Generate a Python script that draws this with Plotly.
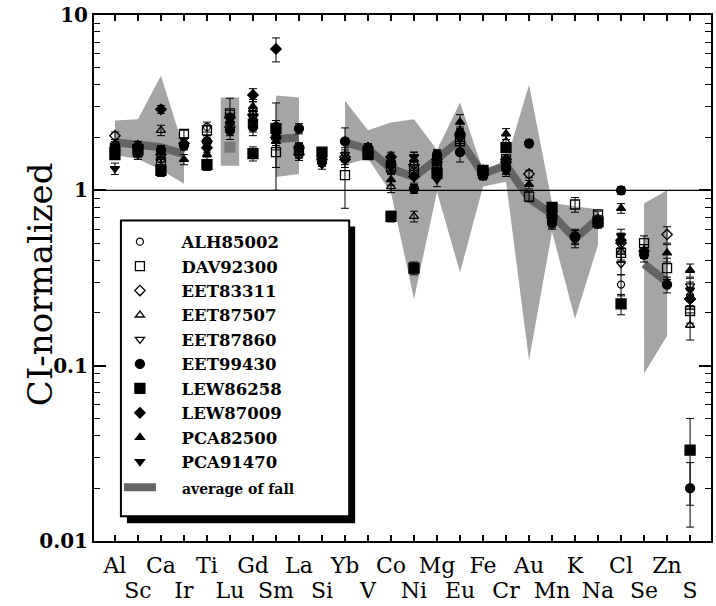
import plotly.graph_objects as go

elements = ["Al","Sc","Ca","Ir","Ti","Lu","Gd","Sm","La","Si","Yb","V","Co","Ni",
            "Mg","Eu","Fe","Cr","Au","Mn","K","Na","Cl","Se","Zn","S"]

# range of falls (gray band) and average of falls (dark line)
band_hi = [2.50,2.54,4.50,1.72,None,3.38,None,3.47,3.38,None,3.24,2.20,2.44,2.54,1.70,3.17,1.30,1.45,4.00,0.85,0.81,0.78,None,0.84,1.00,None]
band_lo = [1.59,1.51,1.31,1.09,None,1.38,None,1.19,1.24,None,1.40,1.52,0.97,0.24,0.98,0.34,1.05,1.12,0.107,0.58,0.185,0.49,None,0.09,0.148,None]
avg_fall = [1.88,1.84,1.76,1.61,None,1.76,None,1.96,2.00,None,1.88,1.72,1.33,1.19,1.51,1.93,1.24,1.39,0.90,0.73,0.53,0.69,None,0.38,0.30,None]

ALH85002 = [1.80,1.80,1.50,None,2.30,None,2.50,2.10,1.65,None,None,1.70,1.45,1.30,1.40,2.00,1.25,1.40,None,0.70,None,0.66,0.29,None,None,0.25]
DAV92300 = [1.75,1.70,1.45,2.10,2.20,2.75,2.40,1.65,1.70,None,1.22,1.65,1.35,1.30,1.35,1.90,1.25,1.50,0.92,0.72,0.83,0.73,0.44,0.50,0.36,0.205]
EET83311 = [2.05,1.75,1.60,None,1.90,2.30,2.70,2.00,1.60,None,1.55,1.75,1.40,1.40,1.50,2.05,1.30,1.45,1.24,0.70,None,0.68,0.50,None,0.56,0.24]
EET87507 = [1.85,1.65,2.20,None,1.80,2.50,2.90,2.00,1.65,None,None,1.70,1.05,0.71,1.55,2.20,1.20,1.90,None,0.68,None,None,0.45,None,None,0.17]
EET87860 = [1.70,1.60,1.55,None,1.70,2.40,2.60,2.10,1.70,None,1.60,1.65,1.50,1.55,1.50,None,1.25,1.35,None,0.70,None,None,0.38,None,None,0.285]
EET99430 = [1.65,1.75,1.70,1.80,1.90,2.20,2.30,2.30,2.25,1.45,1.90,1.75,1.45,1.02,1.60,1.65,1.22,1.33,1.85,0.65,0.54,0.66,1.00,0.43,0.29,0.020]
LEW86258 = [1.60,1.70,1.30,None,1.40,None,1.62,2.25,None,1.65,None,1.60,0.71,0.36,1.25,None,1.30,1.75,None,0.80,None,0.66,0.225,None,None,0.033]
LEW87009 = [1.75,1.80,2.90,1.85,1.75,2.60,3.50,6.40,1.75,1.50,1.50,1.65,1.55,1.20,1.45,2.10,1.25,1.50,None,0.72,0.55,0.65,0.52,0.45,None,0.24]
PCA82500 = [1.62,1.60,1.65,1.50,1.60,2.45,3.00,1.90,None,1.55,None,1.70,1.15,1.50,1.60,2.45,1.20,2.10,1.08,0.68,None,None,0.79,None,0.44,0.35]
PCA91470 = [1.33,1.65,None,None,None,None,2.45,2.00,None,1.40,None,1.60,1.35,1.55,1.15,None,1.20,1.30,None,0.66,0.52,0.65,0.55,0.45,None,0.27]

err_ALH85002 = [0.10,0.10,0.10,None,0.15,None,0.25,0.20,0.12,None,None,0.10,0.10,0.10,0.10,0.20,0.05,0.10,None,0.05,None,0.04,0.04,None,None,0.03]
err_DAV92300 = [0.10,0.10,0.10,0.10,0.15,0.60,0.25,0.65,0.15,None,0.43,0.10,0.10,0.10,0.10,0.20,0.05,0.10,0.06,0.05,0.08,0.03,0.05,0.05,0.05,0.03]
err_EET83311 = [0.10,0.10,0.10,None,0.15,0.25,0.25,0.20,0.12,None,0.15,0.10,0.10,0.10,0.10,0.20,0.05,0.10,0.06,0.05,None,0.04,0.05,None,0.06,0.03]
err_EET87507 = [0.10,0.10,0.15,None,0.15,0.25,0.30,0.20,0.12,None,None,0.10,0.08,0.05,0.10,0.20,0.05,0.15,None,0.05,None,None,0.05,None,None,0.03]
err_EET87860 = [0.10,0.10,0.10,None,0.15,0.25,0.25,0.20,0.12,None,0.15,0.10,0.10,0.10,0.10,None,0.05,0.10,None,0.05,None,None,0.05,None,None,0.03]
err_EET99430 = [0.10,0.10,0.10,0.10,0.15,0.25,0.25,0.20,0.15,0.08,0.37,0.10,0.10,0.06,0.10,0.20,0.05,0.10,0.08,0.05,0.05,0.04,0.05,0.04,0.03,0.008]
err_LEW86258 = [0.10,0.10,0.10,None,0.10,None,0.15,0.90,None,0.08,None,0.10,0.05,0.03,0.10,None,0.05,0.10,None,0.05,None,0.04,0.03,None,None,0.017]
err_LEW87009 = [0.10,0.10,0.15,0.10,0.15,0.25,0.30,1.00,0.12,0.08,0.15,0.10,0.10,0.10,0.10,0.20,0.05,0.10,None,0.05,0.05,0.04,0.05,0.04,None,0.03]
err_PCA82500 = [0.10,0.10,0.10,0.10,0.15,0.25,0.30,0.20,None,0.08,None,0.10,0.08,0.10,0.10,0.25,0.05,0.15,0.06,0.05,None,None,0.05,None,0.05,0.03]
err_PCA91470 = [0.10,0.10,None,None,None,None,0.25,0.20,None,0.08,None,0.10,0.10,0.10,0.10,None,0.05,0.10,None,0.05,0.05,0.04,0.05,0.04,None,0.03]

series = [
    ("ALH85002", ALH85002, err_ALH85002, "circle-open", 7),
    ("DAV92300", DAV92300, err_DAV92300, "square-open", 9),
    ("EET83311", EET83311, err_EET83311, "diamond-open", 8),
    ("EET87507", EET87507, err_EET87507, "triangle-up-open", 8),
    ("EET87860", EET87860, err_EET87860, "triangle-down-open", 8),
    ("EET99430", EET99430, err_EET99430, "circle", 9),
    ("LEW86258", LEW86258, err_LEW86258, "square", 10),
    ("LEW87009", LEW87009, err_LEW87009, "diamond", 8),
    ("PCA82500", PCA82500, err_PCA82500, "triangle-up", 8),
    ("PCA91470", PCA91470, err_PCA91470, "triangle-down", 8),
]

idx = list(range(len(elements)))
fig = go.Figure()

# gray band: one filled polygon per contiguous run
runs, cur = [], []
for i in idx:
    if band_hi[i] is not None:
        cur.append(i)
    else:
        if cur:
            runs.append(cur)
        cur = []
if cur:
    runs.append(cur)
for r in runs:
    if len(r) == 1:
        i = r[0]
        xs = [i - 0.4, i + 0.4, i + 0.4, i - 0.4, i - 0.4]
        ys = [band_hi[i], band_hi[i], band_lo[i], band_lo[i], band_hi[i]]
    else:
        xs = r + r[::-1] + [r[0]]
        ys = [band_hi[i] for i in r] + [band_lo[i] for i in r[::-1]] + [band_hi[r[0]]]
    fig.add_trace(go.Scatter(x=xs, y=ys, mode="lines", fill="toself",
                             fillcolor="#a5a5a5", line=dict(width=0),
                             showlegend=False, hoverinfo="skip"))

PAD = "\u2003\u2005"
# average line
fig.add_trace(go.Scatter(x=idx, y=avg_fall, mode="lines", connectgaps=False,
                         line=dict(color="#646464", width=8),
                         name="<span style='font-size:14px'>\u2003\u2002average of fall</span>",
                         legendgroup="b", legendrank=20))
iso = [i for i in idx if avg_fall[i] is not None
       and (i == 0 or avg_fall[i-1] is None)
       and (i == len(idx)-1 or avg_fall[i+1] is None)]
fig.add_trace(go.Scatter(x=iso, y=[avg_fall[i] for i in iso], mode="markers",
                         marker=dict(symbol="square", size=11, color="#7a7a7a"),
                         showlegend=False))

for k, (name, vals, errs, sym, sz) in enumerate(series):
    fig.add_trace(go.Scatter(
        x=idx, y=vals, mode="markers", name=PAD + name, legendrank=k + 1, legendgroup="a",
        marker=dict(symbol=sym, size=sz, color="black",
                    line=dict(color="black", width=1.3)),
        error_y=dict(type="data", array=errs, color="black", thickness=1, width=4)))

even = [i for i in idx if i % 2 == 0]
odd = [i for i in idx if i % 2 == 1]

# invisible carrier so the second (lower-row) category axis is drawn
fig.add_trace(go.Scatter(x=odd, y=[avg_fall[i] for i in odd], xaxis="x2", mode="markers",
                         marker=dict(opacity=0), showlegend=False, hoverinfo="skip"))

tickfont = dict(family="DejaVu Serif", size=22, color="black")
common_x = dict(range=[-0.91, 25.91], tickmode="array", tickangle=0,
                ticks="inside", ticklen=6, tickwidth=1.5, tickcolor="black",
                showline=True, linewidth=2, linecolor="black", mirror="ticks",
                showgrid=False, zeroline=False, tickfont=tickfont)

def px2paper_x(p):
    return (p - 94) / 619

def px2paper_y(p):
    return (542 - p) / 530

fig.update_layout(
    width=716, height=606,
    margin=dict(l=94, r=3, t=12, b=64),
    paper_bgcolor="white", plot_bgcolor="white",
    font=dict(family="DejaVu Serif", color="black"),
    xaxis=dict(common_x, tickvals=even, ticktext=[elements[i] for i in even],
               ticklabelstandoff=4),
    xaxis2=dict(common_x, tickvals=odd, ticktext=[elements[i] for i in odd],
                overlaying="x", anchor="y", side="bottom", ticklabelstandoff=29),
    yaxis=dict(type="log", range=[-2, 1], tickmode="array",
               tickvals=[0.01, 0.1, 1, 10], ticktext=["<b>0.01</b>", "<b>0.1</b>", "<b>1</b>", "<b>10</b>"],
               ticks="inside", ticklen=12, tickwidth=1.5, tickcolor="black",
               minor=dict(ticks="inside", ticklen=6, tickwidth=1.2, tickcolor="black",
                          dtick="D1", showgrid=False),
               showline=True, linewidth=2, linecolor="black", mirror="ticks",
               showgrid=False, zeroline=False,
               tickfont=dict(family="DejaVu Serif", size=20, color="black")),
    legend=dict(x=px2paper_x(119), y=px2paper_y(223), xanchor="left", yanchor="top",
                bgcolor="rgba(0,0,0,0)", borderwidth=0, itemwidth=32,
                traceorder="grouped", tracegroupgap=1,
                font=dict(family="DejaVu Serif", size=16.5, color="black", weight="bold")),
    annotations=[dict(text="CI-normalized", xref="paper", yref="paper",
                      x=px2paper_x(40), y=px2paper_y(283), textangle=-90,
                      showarrow=False, xanchor="center", yanchor="middle",
                      font=dict(family="DejaVu Serif", size=34, color="black"))],
    shapes=[
        dict(type="line", xref="paper", yref="y", x0=0, x1=1, y0=1, y1=1,
             line=dict(color="black", width=1.2), layer="above"),
        dict(type="rect", xref="paper", yref="paper",
             x0=px2paper_x(127), x1=px2paper_x(356), y0=px2paper_y(524), y1=px2paper_y(225),
             fillcolor="black", line=dict(width=0), layer="above"),
        dict(type="rect", xref="paper", yref="paper",
             x0=px2paper_x(121), x1=px2paper_x(350), y0=px2paper_y(517), y1=px2paper_y(219),
             fillcolor="white", line=dict(color="black", width=2), layer="above"),
    ],
)

fig.write_html("out.html")
